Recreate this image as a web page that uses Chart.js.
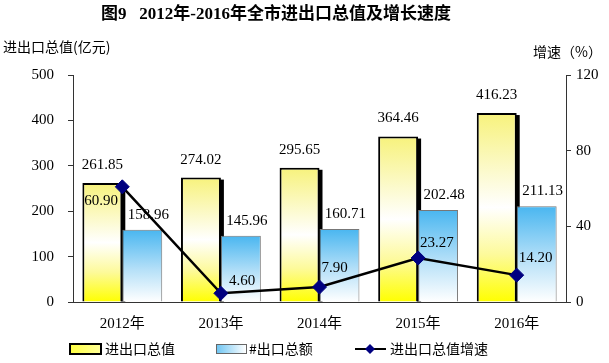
<!DOCTYPE html>
<html>
<head>
<meta charset="utf-8">
<script src="https://cdn.jsdelivr.net/npm/chart.js@4/dist/chart.umd.min.js"></script>
<style>
  html, body { margin: 0; padding: 0; background: #fff; }
  #wrap { width: 609px; height: 363px; position: relative; }
</style>
</head>
<body>
<div id="wrap"><canvas id="chart" width="609" height="363"></canvas></div>
<script>
// data
const years = ["2012年", "2013年", "2014年", "2015年", "2016年"];
const totalValue = [261.85, 274.02, 295.65, 364.46, 416.23];
const exportValue = [158.96, 145.96, 160.71, 202.48, 211.13];
const growthRate = [60.90, 4.60, 7.90, 23.27, 14.20];
const leftTicks = [0, 100, 200, 300, 400, 500];
const rightTicks = [0, 40, 80, 120];

const titleText = "图9   2012年-2016年全市进出口总值及增长速度";
const leftAxisTitle = "进出口总值(亿元)";
const rightAxisTitle = "增速（%）";
const legendNames = ["进出口总值", "#出口总额", "进出口总值增速"];

const numFont = "15px 'Liberation Serif', 'DejaVu Serif', serif";
const cjkFont = "14px 'Noto Sans CJK SC', sans-serif";

// label offsets for the growth line (dx, dy)
const lineLabelOffsets = [
  [-38, 14],
  [8, -12],
  [2, -19],
  [2, -15],
  [2, -17],
];

function yellowFill(context) {
  const chart = context.chart;
  const area = chart.chartArea;
  if (!area || !chart.scales.y) return "#ffff66";
  const top = chart.scales.y.getPixelForValue(context.raw);
  const g = chart.ctx.createLinearGradient(0, top, 0, area.bottom);
  g.addColorStop(0, "#f7f27c");
  g.addColorStop(0.5, "#ffffff");
  g.addColorStop(0.75, "#fdfa9a");
  g.addColorStop(1, "#ffff00");
  return g;
}

function blueFill(context) {
  const chart = context.chart;
  const area = chart.chartArea;
  if (!area || !chart.scales.y) return "#8fd0f5";
  const top = chart.scales.y.getPixelForValue(context.raw);
  const g = chart.ctx.createLinearGradient(0, top, 0, area.bottom);
  g.addColorStop(0, "#49b6f0");
  g.addColorStop(0.55, "#b5e0f8");
  g.addColorStop(1, "#ffffff");
  return g;
}

const decorPlugin = {
  id: "decor",
  beforeDatasetsDraw(chart) {
    // black drop shadow on the right side of the yellow bars
    const ctx = chart.ctx;
    ctx.save();
    ctx.fillStyle = "#000";
    chart.getDatasetMeta(0).data.forEach((bar) => {
      const half = bar.width / 2;
      ctx.fillRect(bar.x + half - 1, bar.y + 2, 4, bar.base - bar.y - 2);
    });
    ctx.restore();
  },
  afterDatasetsDraw(chart) {
    const ctx = chart.ctx;
    ctx.save();
    ctx.fillStyle = "#000";
    ctx.font = numFont;
    ctx.textBaseline = "middle";

    ctx.textAlign = "center";
    chart.getDatasetMeta(0).data.forEach((bar, i) => {
      ctx.fillText(totalValue[i].toFixed(2), bar.x, bar.y - 18);
    });
    chart.getDatasetMeta(1).data.forEach((bar, i) => {
      ctx.fillText(exportValue[i].toFixed(2), bar.x + 6, bar.y - 15);
    });
    ctx.textAlign = "left";
    chart.getDatasetMeta(2).data.forEach((pt, i) => {
      const [dx, dy] = lineLabelOffsets[i];
      ctx.fillText(growthRate[i].toFixed(2), pt.x + dx, pt.y + dy);
    });
    ctx.restore();
  },
  afterDraw(chart) {
    const ctx = chart.ctx;
    ctx.save();
    ctx.fillStyle = "#000";
    ctx.textBaseline = "middle";

    // title
    ctx.font = "bold 17px 'Liberation Serif', 'Noto Sans CJK SC', serif";
    ctx.textAlign = "center";
    ctx.fillText(titleText, 276, 15);

    // axis titles
    ctx.font = cjkFont;
    ctx.textAlign = "left";
    ctx.fillText(leftAxisTitle, 3, 47);
    ctx.textAlign = "right";
    ctx.fillText(rightAxisTitle, 602, 52);

    // legend
    const ly = 349;
    ctx.textAlign = "left";
    ctx.font = cjkFont;

    let g = ctx.createLinearGradient(70, 0, 101, 0);
    g.addColorStop(0, "#ffff40");
    g.addColorStop(1, "#ffff99");
    ctx.fillStyle = g;
    ctx.fillRect(70, ly - 5, 31, 10);
    ctx.lineWidth = 2;
    ctx.strokeStyle = "#000";
    ctx.strokeRect(70, ly - 5, 31, 10);
    ctx.fillStyle = "#000";
    ctx.fillText(legendNames[0], 105, ly);

    g = ctx.createLinearGradient(216, 0, 246, 0);
    g.addColorStop(0, "#6cc4f2");
    g.addColorStop(1, "#ffffff");
    ctx.fillStyle = g;
    ctx.fillRect(216, ly - 4, 30, 8);
    ctx.lineWidth = 1;
    ctx.strokeStyle = "#666";
    ctx.strokeRect(216.5, ly - 4.5, 30, 9);
    ctx.fillStyle = "#000";
    ctx.fillText(legendNames[1], 249, ly);

    ctx.beginPath();
    ctx.moveTo(355, ly);
    ctx.lineTo(386, ly);
    ctx.lineWidth = 2;
    ctx.strokeStyle = "#000";
    ctx.stroke();
    ctx.beginPath();
    ctx.moveTo(370, ly - 5);
    ctx.lineTo(375, ly);
    ctx.lineTo(370, ly + 5);
    ctx.lineTo(365, ly);
    ctx.closePath();
    ctx.fillStyle = "#000080";
    ctx.fill();
    ctx.fillStyle = "#000";
    ctx.fillText(legendNames[2], 390, ly);
    ctx.restore();
  },
};

new Chart(document.getElementById("chart"), {
  type: "bar",
  data: {
    labels: years,
    datasets: [
      {
        label: legendNames[0],
        data: totalValue,
        backgroundColor: yellowFill,
        borderColor: "#000",
        borderWidth: 2,
        categoryPercentage: 0.81,
        barPercentage: 1,
        yAxisID: "y",
        order: 2,
      },
      {
        label: legendNames[1],
        data: exportValue,
        backgroundColor: blueFill,
        borderColor: "#777",
        borderWidth: 1,
        categoryPercentage: 0.81,
        barPercentage: 1,
        yAxisID: "y",
        order: 3,
      },
      {
        type: "line",
        label: legendNames[2],
        data: growthRate,
        borderColor: "#000",
        borderWidth: 2.5,
        pointStyle: "rectRot",
        pointRadius: 7,
        pointBackgroundColor: "#000080",
        pointBorderColor: "#000080",
        pointBorderWidth: 1,
        tension: 0,
        yAxisID: "y1",
        order: 1,
      },
    ],
  },
  options: {
    responsive: false,
    animation: false,
    layout: { padding: { top: 75, left: 0, right: 0, bottom: 0 } },
    plugins: {
      legend: { display: false },
      tooltip: { enabled: false },
    },
    scales: {
      x: {
        grid: { display: false, drawTicks: false },
        border: { color: "#333", width: 1 },
        ticks: {
          color: "#000",
          padding: 13,
          font: { family: "'Liberation Serif', 'Noto Sans CJK SC', serif", size: 15 },
        },
        afterFit: (s) => { s.height = 61; },
      },
      y: {
        position: "left",
        min: 0,
        max: 500,
        afterBuildTicks: (s) => { s.ticks = leftTicks.map((v) => ({ value: v })); },
        grid: { drawOnChartArea: false, tickLength: 5, color: "#333" },
        border: { color: "#333", width: 1 },
        ticks: {
          color: "#000",
          padding: 14,
          font: { family: "'Liberation Serif', serif", size: 15 },
        },
        afterFit: (s) => { s.width = 73; },
      },
      y1: {
        position: "right",
        min: 0,
        max: 120,
        afterBuildTicks: (s) => { s.ticks = rightTicks.map((v) => ({ value: v })); },
        grid: { drawOnChartArea: false, tickLength: 5, color: "#333" },
        border: { color: "#333", width: 1 },
        ticks: {
          color: "#000",
          padding: 5,
          font: { family: "'Liberation Serif', serif", size: 15 },
        },
        afterFit: (s) => { s.width = 43; },
      },
    },
  },
  plugins: [decorPlugin],
});
</script>
</body>
</html>
